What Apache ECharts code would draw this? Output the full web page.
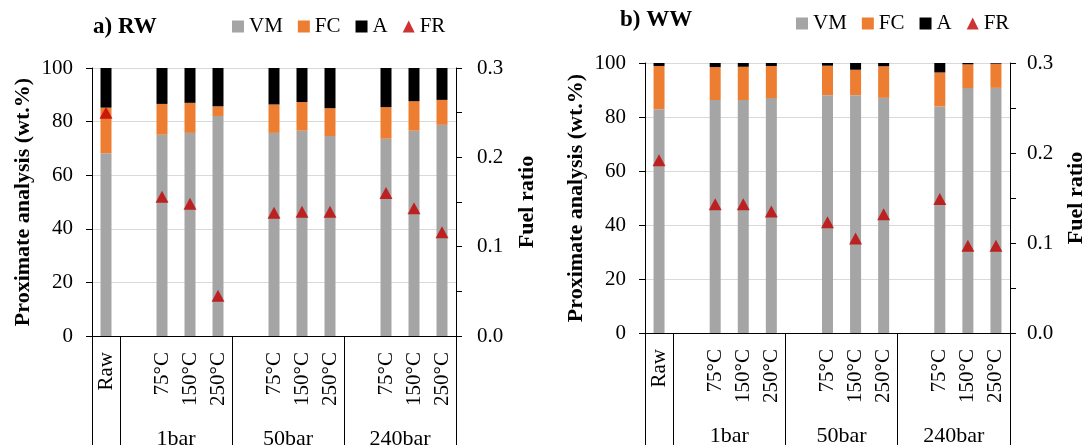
<!DOCTYPE html>
<html>
<head>
<meta charset="utf-8">
<script src="https://cdn.jsdelivr.net/npm/echarts@6/dist/echarts.min.js"></script>
<style>
html,body{margin:0;padding:0;background:#fff;}
#chart{width:1086px;height:445px;}
</style>
</head>
<body>
<div id="chart"></div>
<script>
// ---- data ----
const rawLabel = 'Raw';
const groups = ['1bar', '50bar', '240bar'];
const temps = ['75°C', '150°C', '250°C'];
const seriesNames = ['VM', 'FC', 'A', 'FR'];
const titles = ['a) RW', 'b) WW'];
const leftAxisName = 'Proximate analysis (wt.%)';
const rightAxisName = 'Fuel ratio';

// order: Raw, 1bar(75,150,250), 50bar(75,150,250), 240bar(75,150,250)
const rwVM = [68.2, 75.1, 75.8, 82.1, 75.8, 76.6, 74.6, 73.6, 76.6, 78.8];
const rwFC = [17.0, 11.5, 11.2, 3.6, 10.6, 10.7, 10.4, 11.8, 11.0, 9.3];
const rwA  = [14.8, 13.4, 13.0, 14.3, 13.6, 12.7, 15.0, 14.6, 12.4, 11.9];
const rwFR = [0.250, 0.156, 0.148, 0.045, 0.138, 0.139, 0.139, 0.160, 0.143, 0.116];

const wwVM = [82.9, 86.3, 86.3, 87.0, 88.1, 88.1, 87.1, 83.9, 90.7, 90.8];
const wwFC = [16.0, 12.2, 12.3, 11.9, 10.9, 9.4, 11.7, 12.6, 8.8, 8.95];
const wwA  = [1.1, 1.5, 1.4, 1.1, 1.0, 2.5, 1.2, 3.5, 0.5, 0.25];
const wwFR = [0.192, 0.143, 0.143, 0.135, 0.123, 0.105, 0.132, 0.149, 0.097, 0.097];

const leftTicks = [0, 20, 40, 60, 80, 100];
const rightTicks = [0, 0.1, 0.2, 0.3];

// ---- build category structure (gap slot before each group) ----
const catLabels = [rawLabel];
const dataIndexOfSlot = [0];
const boundaries = [0, 1];
const groupCenters = [];
let di = 1;
groups.forEach(function () {
  const start = catLabels.length;
  catLabels.push('');
  dataIndexOfSlot.push(-1);
  temps.forEach(function (t) { catLabels.push(t); dataIndexOfSlot.push(di++); });
  const end = catLabels.length;
  boundaries.push(end);
  groupCenters.push((start + end) / 2);
});
const nSlots = catLabels.length;
const catKeys = catLabels.map(function (l, i) { return 'c' + i; });
// secondary (boundary) axis: points 0..nSlots
const sepData = [];
for (let i = 0; i <= nSlots; i++) {
  const gi = groupCenters.indexOf(i);
  sepData.push(gi >= 0 ? groups[gi] : '');
}
function spread(arr) {
  return dataIndexOfSlot.map(function (d) { return d < 0 ? null : arr[d]; });
}

const FONT = 'Liberation Serif';
const colors = { VM: '#a5a5a5', FC: '#ed7d31', A: '#000000', FR: '#c00000' };

const grids = [
  { left: 92, right: 630, top: 68, bottom: 109, outerBoundsMode: 'none', containLabel: false },
  { left: 645, right: 76, top: 63, bottom: 112, outerBoundsMode: 'none', containLabel: false }
];
const panelData = [
  { VM: rwVM, FC: rwFC, A: rwA, FR: rwFR },
  { VM: wwVM, FC: wwFC, A: wwA, FR: wwFR }
];
const rightMargins = [21, 17];

const xAxes = [], yAxes = [], series = [];
grids.forEach(function (g, p) {
  xAxes.push({
    type: 'category', gridIndex: p, data: catKeys, boundaryGap: true,
    axisLine: { show: true, lineStyle: { color: '#000', width: 1 } },
    axisTick: { show: false },
    axisLabel: {
      interval: 0, rotate: 90, margin: 16,
      fontFamily: FONT, fontSize: 21, color: '#000',
      formatter: function (v) { return catLabels[catKeys.indexOf(v)]; }
    },
    splitLine: { show: false }
  });
  xAxes.push({
    type: 'category', gridIndex: p, data: sepData, boundaryGap: false,
    position: 'bottom',
    axisLine: { show: false },
    axisTick: {
      show: true, length: 120, inside: false,
      interval: function (idx) { return boundaries.indexOf(idx) >= 0; },
      lineStyle: { color: '#000', width: 1 }
    },
    axisLabel: {
      interval: function (idx, v) { return v !== ''; },
      margin: 92, fontFamily: FONT, fontSize: 22, color: '#000'
    },
    splitLine: { show: false }
  });
  yAxes.push({
    type: 'value', gridIndex: p, position: 'left', min: 0, max: 100, interval: 20,
    name: leftAxisName, nameLocation: 'middle', nameGap: 58,
    nameTextStyle: { fontFamily: FONT, fontSize: 22, fontWeight: 'bold', color: '#000' },
    axisLine: { show: true, lineStyle: { color: '#000', width: 1 } },
    axisTick: { show: true, length: 6, inside: false, lineStyle: { color: '#000' } },
    axisLabel: { margin: 19, fontFamily: FONT, fontSize: 21, color: '#000',
      formatter: function (v) { return leftTicks.indexOf(v) >= 0 ? String(v) : ''; } },
    splitLine: { show: true, lineStyle: { color: '#d9d9d9', width: 1 } }
  });
  yAxes.push({
    type: 'value', gridIndex: p, position: 'right', min: 0, max: 0.3, interval: 0.05,
    name: rightAxisName, nameLocation: 'middle', nameGap: p === 0 ? 60 : 55,
    nameTextStyle: { fontFamily: FONT, fontSize: 22, fontWeight: 'bold', color: '#000' },
    axisLine: { show: true, lineStyle: { color: '#000', width: 1 } },
    axisTick: { show: true, length: 6, inside: false, lineStyle: { color: '#000' } },
    axisLabel: { margin: rightMargins[p], fontFamily: FONT, fontSize: 21, color: '#000',
      formatter: function (v) {
        for (let i = 0; i < rightTicks.length; i++) {
          if (Math.abs(rightTicks[i] - v) < 1e-6) return rightTicks[i].toFixed(1);
        }
        return '';
      } },
    splitLine: { show: false }
  });
  ['VM', 'FC', 'A'].forEach(function (s) {
    series.push({
      name: s, type: 'bar', stack: 'p' + p, xAxisIndex: p * 2, yAxisIndex: p * 2,
      barWidth: 11, itemStyle: { color: colors[s] },
      data: spread(panelData[p][s]), animation: false
    });
  });
  series.push({
    name: 'FR', type: 'scatter', xAxisIndex: p * 2, yAxisIndex: p * 2 + 1,
    symbol: 'triangle', symbolSize: [13, 12], z: 5,
    itemStyle: { color: colors.FR },
    data: spread(panelData[p].FR), animation: false
  });
});

function legendFor(left, top) {
  return {
    left: left, top: top, orient: 'horizontal', itemWidth: 12, itemHeight: 12, itemGap: 15,
    selectedMode: false, padding: 0,
    textStyle: { fontFamily: FONT, fontSize: 21, color: '#000' },
    data: seriesNames.map(function (n) { return { name: n, icon: n === 'FR' ? 'triangle' : 'rect' }; })
  };
}

const chart = echarts.init(document.getElementById('chart'), null, { renderer: 'canvas' });
chart.setOption({
  backgroundColor: '#fff',
  animation: false,
  title: [
    { text: titles[0], left: 93, top: 16, padding: 0,
      textStyle: { fontFamily: FONT, fontSize: 23, fontWeight: 'bold', color: '#000' } },
    { text: titles[1], left: 620, top: 9, padding: 0,
      textStyle: { fontFamily: FONT, fontSize: 23, fontWeight: 'bold', color: '#000' } }
  ],
  legend: [legendFor(232, 16), legendFor(796, 13)],
  grid: grids,
  xAxis: xAxes,
  yAxis: yAxes,
  series: series
});
</script>
</body>
</html>
